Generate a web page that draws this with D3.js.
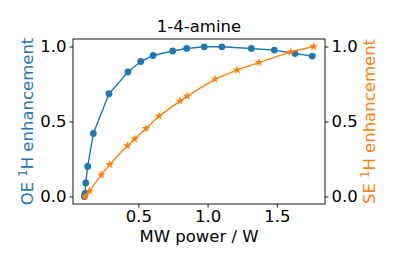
<!DOCTYPE html>
<html>
<head>
<meta charset="utf-8">
<script src="https://cdn.jsdelivr.net/npm/d3@7"></script>
<style>
  body { margin: 0; background: #fff; }
  svg text { font-family: "DejaVu Sans", sans-serif; }
</style>
</head>
<body>
<svg id="svg" width="399" height="266"></svg>
<script>
const oePower = [0.11, 0.115, 0.12, 0.134, 0.175, 0.288, 0.425, 0.517, 0.606, 0.748, 0.849, 0.976, 1.104, 1.316, 1.482, 1.631, 1.756];
const oeEnh = [0.0, 0.02, 0.09, 0.20, 0.42, 0.685, 0.83, 0.90, 0.94, 0.97, 0.987, 0.998, 0.998, 0.987, 0.976, 0.953, 0.936];
const sePower = [0.115, 0.146, 0.232, 0.293, 0.42, 0.473, 0.555, 0.649, 0.80, 0.853, 1.053, 1.214, 1.371, 1.60, 1.766];
const seEnh = [0.0, 0.036, 0.144, 0.213, 0.338, 0.384, 0.453, 0.536, 0.636, 0.669, 0.782, 0.844, 0.893, 0.964, 1.0];
const xTicks = [0.5, 1.0, 1.5];
const yTicks = [0.0, 0.5, 1.0];

const blue = '#1f77b4';
const orange = '#ff7f0e';
const fontSize = '16.5px';
const plotLeft = 73, plotRight = 325, plotTop = 39, plotBottom = 204;

const svg = d3.select('#svg');

const x = d3.scaleLinear().domain([0.028, 1.848]).range([plotLeft, plotRight]);
const yL = d3.scaleLinear().domain([-0.05, 1.05]).range([plotBottom, plotTop]);
const yR = d3.scaleLinear().domain([-0.05, 1.05]).range([plotBottom, plotTop]);

function styleAxis(g) {
  g.select('.domain').remove();
  g.selectAll('.tick line').attr('stroke', '#000').attr('stroke-width', 0.9);
  g.selectAll('.tick text').attr('fill', '#000').style('font-size', fontSize).style('font-family', 'DejaVu Sans');
}

svg.append('g')
  .attr('transform', `translate(0,${plotBottom})`)
  .call(d3.axisBottom(x).tickValues(xTicks).tickFormat(d3.format('.1f')).tickSize(3.5).tickPadding(3))
  .call(styleAxis);

svg.append('g')
  .attr('transform', `translate(${plotLeft},0)`)
  .call(d3.axisLeft(yL).tickValues(yTicks).tickFormat(d3.format('.1f')).tickSize(3.5).tickPadding(3))
  .call(styleAxis);

svg.append('g')
  .attr('transform', `translate(${plotRight},0)`)
  .call(d3.axisRight(yR).tickValues(yTicks).tickFormat(d3.format('.1f')).tickSize(3.5).tickPadding(3))
  .call(styleAxis);

svg.append('rect')
  .attr('x', plotLeft).attr('y', plotTop)
  .attr('width', plotRight - plotLeft).attr('height', plotBottom - plotTop)
  .attr('fill', 'none').attr('stroke', '#000').attr('stroke-width', 0.9);

const oe = oePower.map((p, i) => ({ p, v: oeEnh[i] }));
const se = sePower.map((p, i) => ({ p, v: seEnh[i] }));

svg.append('path')
  .datum(oe)
  .attr('fill', 'none').attr('stroke', blue).attr('stroke-width', 1.4)
  .attr('d', d3.line().x(d => x(d.p)).y(d => yL(d.v)));

svg.selectAll('circle.oe')
  .data(oe)
  .enter()
  .append('circle')
  .attr('class', 'oe')
  .attr('cx', d => x(d.p))
  .attr('cy', d => yL(d.v))
  .attr('r', 3.4)
  .attr('fill', blue);

svg.append('path')
  .datum(se)
  .attr('fill', 'none').attr('stroke', orange).attr('stroke-width', 1.4)
  .attr('d', d3.line().x(d => x(d.p)).y(d => yR(d.v)));

const star = d3.symbol().type(d3.symbolStar).size(24);
svg.selectAll('path.se')
  .data(se)
  .enter()
  .append('path')
  .attr('class', 'se')
  .attr('d', star)
  .attr('transform', d => `translate(${x(d.p)},${yR(d.v)})`)
  .attr('fill', orange);

// titles
svg.append('text')
  .attr('x', (plotLeft + plotRight) / 2).attr('y', 32)
  .attr('text-anchor', 'middle')
  .style('font-size', fontSize)
  .text('1-4-amine');

svg.append('text')
  .attr('x', (plotLeft + plotRight) / 2).attr('y', 242)
  .attr('text-anchor', 'middle')
  .style('font-size', fontSize)
  .text('MW power / W');

const yl = svg.append('text')
  .attr('transform', `translate(33,${(plotTop + plotBottom) / 2}) rotate(-90)`)
  .attr('text-anchor', 'middle')
  .attr('fill', blue)
  .style('font-size', fontSize);
yl.append('tspan').text('OE ');
yl.append('tspan').attr('dy', -6).style('font-size', '11.5px').text('1');
yl.append('tspan').attr('dy', 6).text('H enhancement');

const yr = svg.append('text')
  .attr('transform', `translate(375,${(plotTop + plotBottom) / 2}) rotate(-90)`)
  .attr('text-anchor', 'middle')
  .attr('fill', orange)
  .style('font-size', fontSize);
yr.append('tspan').text('SE ');
yr.append('tspan').attr('dy', -6).style('font-size', '11.5px').text('1');
yr.append('tspan').attr('dy', 6).text('H enhancement');
</script>
</body>
</html>
